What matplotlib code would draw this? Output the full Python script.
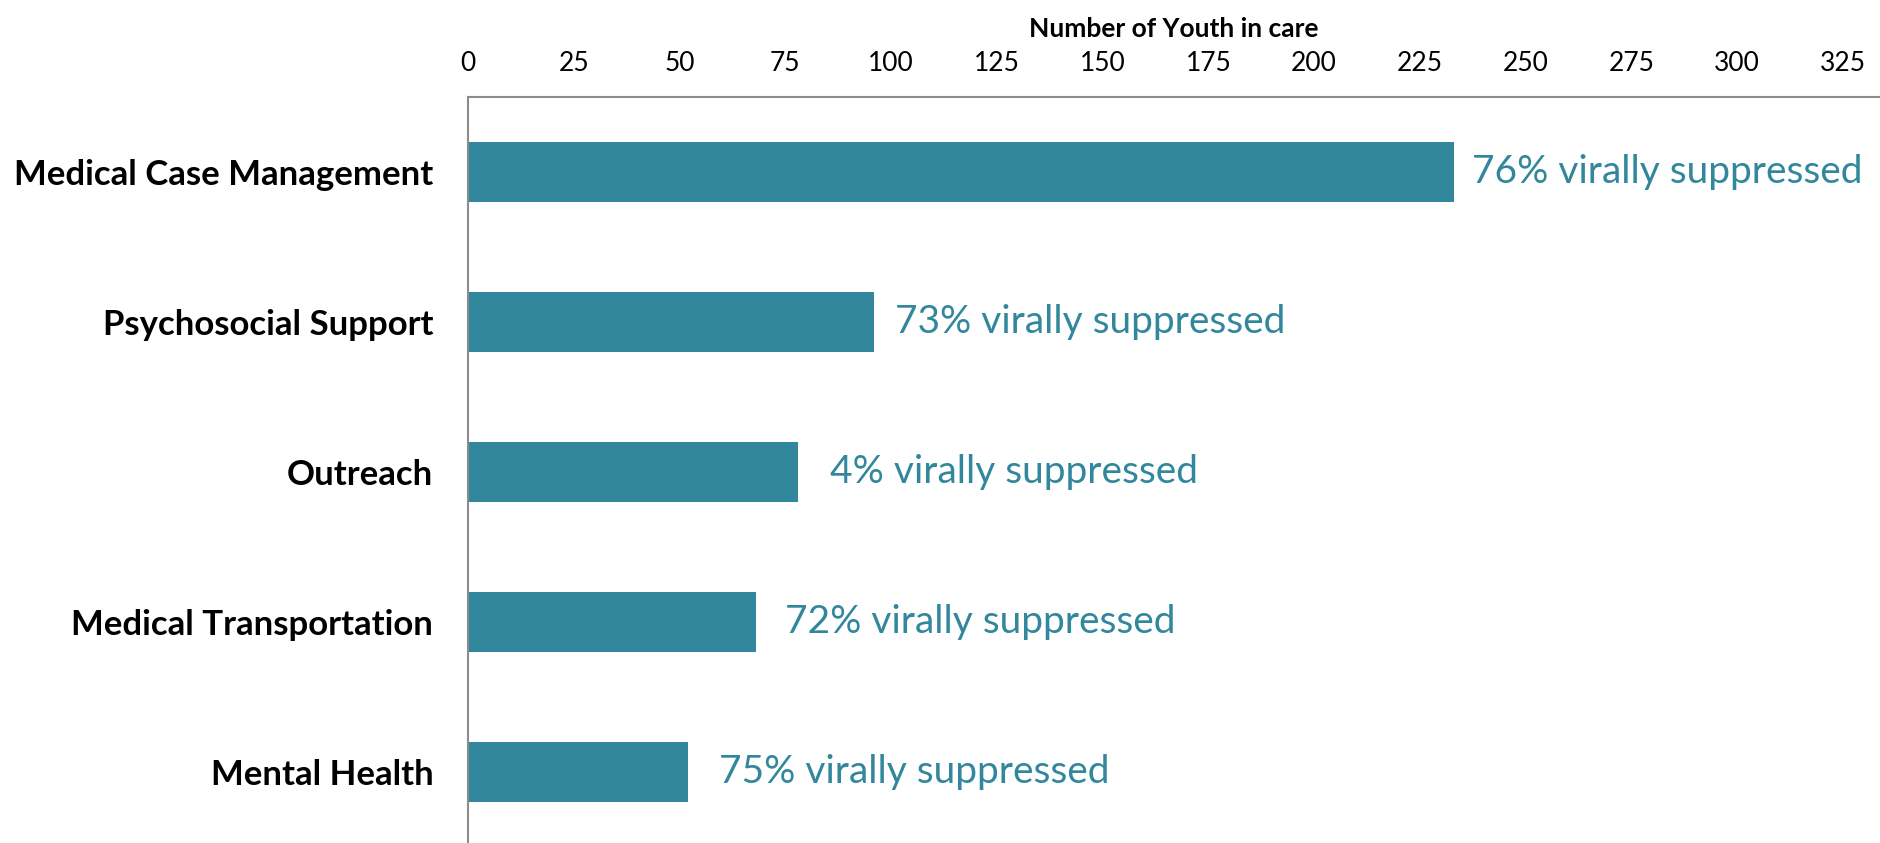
import matplotlib
matplotlib.use("Agg")
import matplotlib.pyplot as plt

categories = ["Medical Case Management", "Psychosocial Support", "Outreach",
              "Medical Transportation", "Mental Health"]
youth_counts = [233, 96, 78, 68, 52]
suppressed_pct = [76, 73, 4, 72, 75]
x_ticks = [0, 25, 50, 75, 100, 125, 150, 175, 200, 225, 250, 275, 300, 325]

# gap (points) between bar end and its label, as in the original layout
label_gaps = [13, 15, 23, 21, 22.5]

BAR = "#32879C"
plt.rcParams['font.family'] = ['Lato', 'DejaVu Sans']

W, H = 1880, 843
fig = plt.figure(figsize=(W / 100, H / 100), dpi=100)
left, right, top, bottom = 468, 1880, 97, 847
ax = fig.add_axes([left / W, (H - bottom) / H, (right - left) / W, (bottom - top) / H])

y = list(range(len(categories)))
ax.barh(y, youth_counts, height=0.4, color=BAR, zorder=2)
ax.set_ylim(len(categories) - 0.5, -0.5)
ax.set_xlim(0, (right - left) / ((1843 - 468) / 325))

ax.xaxis.set_ticks_position('top')
ax.xaxis.set_label_position('top')
ax.set_xticks(x_ticks)
ax.set_xticklabels([str(t) for t in x_ticks], fontsize=19)
ax.tick_params(axis='x', length=0, pad=15)
ax.set_yticks(y)
ax.set_yticklabels(categories, fontsize=25, fontweight='bold')
ax.tick_params(axis='y', length=0, pad=25)
ax.set_xlabel("Number of Youth in care", fontsize=19, fontweight='bold', labelpad=10)

for sp in ['right', 'bottom']:
    ax.spines[sp].set_visible(False)
for sp in ['left', 'top']:
    ax.spines[sp].set_color('#8C8C8C')
    ax.spines[sp].set_linewidth(1.5)

for yi, v, p, g in zip(y, youth_counts, suppressed_pct, label_gaps):
    ax.annotate(f"{p}% virally suppressed", xy=(v, yi), xytext=(g, 0),
                textcoords='offset points', va='center', ha='left',
                fontsize=28, color=BAR)

fig.savefig("out.png", dpi=100)
